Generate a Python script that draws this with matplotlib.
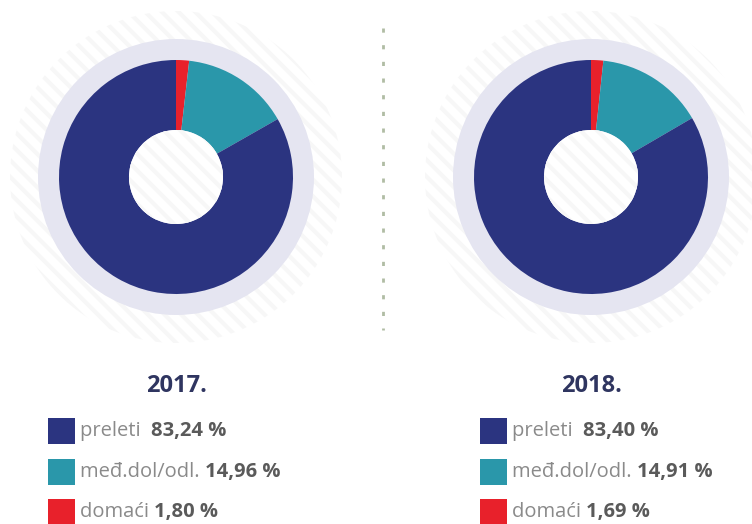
import matplotlib
matplotlib.use("Agg")
import matplotlib.pyplot as plt
from matplotlib.patches import Circle, Rectangle

# data
years = ["2017.", "2018."]
labels = ["preleti", "međ.dol/odl.", "domaći"]
shares_2017 = [83.24, 14.96, 1.80]
shares_2018 = [83.40, 14.91, 1.69]
value_text_2017 = ["83,24 %", "14,96 %", "1,80 %"]
value_text_2018 = ["83,40 %", "14,91 %", "1,69 %"]

colors = ["#2b3480", "#2a97aa", "#e8212b"]
ring_color = "#e5e5f1"
W, H = 752, 524

plt.rcParams["font.family"] = ["Open Sans", "DejaVu Sans"]
plt.rcParams["hatch.linewidth"] = 3.0

fig = plt.figure(figsize=(W / 100, H / 100), dpi=100)
ax = fig.add_axes([0, 0, 1, 1])
ax.set_xlim(0, W)
ax.set_ylim(0, H)
ax.set_aspect("equal")
ax.axis("off")


def py(y):
    # pixel row from top -> data y
    return H - y


def draw_panel(cx, cy, shares, values, year, lx):
    c = (cx, py(cy))
    # faint hatched disc in the background
    ax.add_patch(Circle(c, 166, facecolor="none", edgecolor="#f7f7f7",
                        hatch="\\\\", linewidth=0, zorder=0))
    ax.add_patch(Circle(c, 138, facecolor=ring_color, edgecolor="none", zorder=1))
    # order clockwise from 12 o'clock: domaci, med, preleti
    order = [2, 1, 0]
    wedges, _ = ax.pie([shares[i] for i in order], colors=[colors[i] for i in order],
                       startangle=90, counterclock=False, radius=117,
                       center=c, frame=True,
                       wedgeprops=dict(width=70, edgecolor="none"))
    for w in wedges:
        w.set_zorder(2)
    # white hole with the same faint stripes
    ax.add_patch(Circle(c, 47, facecolor="white", edgecolor="none", zorder=3))
    ax.add_patch(Circle(c, 47, facecolor="none", edgecolor="#f7f7f7",
                        hatch="\\\\", linewidth=0, zorder=4))

    ax.text(cx, py(386), year, ha="center", va="center", fontsize=17,
            fontweight="bold", color="#2f3560")
    row_y = [431, 472, 512]
    for i, lab in enumerate(labels):
        y = row_y[i]
        ax.add_patch(Rectangle((lx, py(y) - 13), 27, 26, facecolor=colors[i],
                               edgecolor="none", zorder=3))
        t = ax.text(lx + 32, py(y), lab + ("  " if i == 0 else " "), ha="left",
                    va="center", fontsize=14.5, color="#8a8a8a")
        fig.canvas.draw()
        bb = t.get_window_extent()
        x_end = ax.transData.inverted().transform((bb.x1, bb.y0))[0]
        ax.text(x_end, py(y), values[i], ha="left", va="center", fontsize=14.5,
                fontweight="bold", color="#5a5a5a")


draw_panel(176, 177, shares_2017, value_text_2017, years[0], 48)
draw_panel(591, 177, shares_2018, value_text_2018, years[1], 480)

ax.set_xlim(0, W)
ax.set_ylim(0, H)

# dotted divider
ax.plot([383, 383], [py(28), py(330)], color="#b0bca4", linewidth=2,
        linestyle=(0, (1.5, 4.5)), zorder=1)

fig.savefig("out.png", dpi=100)
